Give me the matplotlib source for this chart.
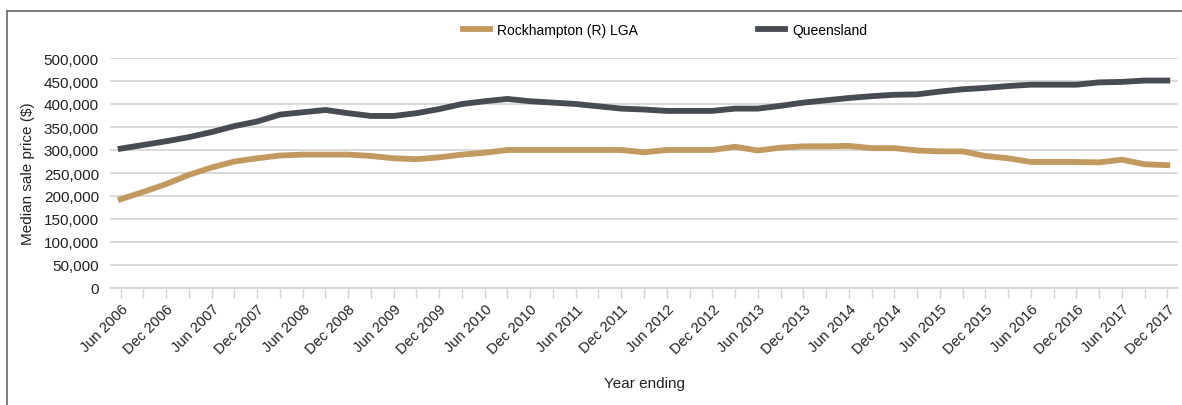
import numpy as np
import matplotlib
matplotlib.use("Agg")
from matplotlib import pyplot as plt
from matplotlib.lines import Line2D

plt.rcParams['font.family'] = ['Liberation Sans', 'DejaVu Sans']

# quarterly, year ending Jun 2006 .. Dec 2017
quarters = []
for yr in range(2006, 2018):
    for m in ['Mar', 'Jun', 'Sep', 'Dec']:
        quarters.append(m + ' ' + str(yr))
quarters = quarters[1:]

rockhampton = [193000, 209000, 226000, 246000, 262000, 275000, 282000, 288000,
               290000, 290000, 290000, 287000, 282000, 280000, 284000, 290000,
               294000, 300000, 300000, 300000, 300000, 300000, 300000, 295000,
               300000, 300000, 300000, 307000, 299000, 305000, 308000, 308000,
               309000, 304000, 304000, 299000, 297000, 297000, 287000, 282000,
               274000, 274000, 274000, 273000, 279000, 269000, 267000]

queensland = [303000, 311000, 319000, 328000, 339000, 352000, 362000, 377000,
              382000, 387000, 380000, 374000, 374000, 380000, 389000, 400000,
              406000, 411000, 406000, 403000, 400000, 395000, 390000, 388000,
              385000, 385000, 385000, 390000, 390000, 396000, 403000, 408000,
              413000, 417000, 420000, 421000, 427000, 432000, 435000, 439000,
              442000, 442000, 442000, 447000, 448000, 451000, 451000]

gold = '#C29A5F'
dark = '#474C53'
grid = '#D3D3D3'

fig = plt.figure(figsize=(11.82, 4.06), dpi=100)
ax = fig.add_axes([110 / 1182, 1 - 289 / 406, 1068 / 1182, 230 / 406])

x = np.arange(len(quarters))
ax.plot(x, rockhampton, color=gold, lw=4.2, label='Rockhampton (R) LGA', solid_joinstyle='miter')
ax.plot(x, queensland, color=dark, lw=4.2, label='Queensland', solid_joinstyle='miter')

ax.set_ylim(0, 500000)
ax.set_xlim(-0.47, len(quarters) - 1 + 0.47)
ax.set_yticks(np.arange(0, 500001, 50000))
ax.set_yticklabels(['{:,}'.format(v) for v in range(0, 500001, 50000)])
ax.yaxis.grid(True, color=grid, lw=1.2)
ax.set_axisbelow(True)

ax.set_xticks(x)
ax.set_xticklabels([q if i % 2 == 0 else '' for i, q in enumerate(quarters)],
                   rotation=45, ha='right', va='top', rotation_mode='anchor')

for s in ['top', 'right', 'left']:
    ax.spines[s].set_visible(False)
ax.spines['bottom'].set_color(grid)
ax.spines['bottom'].set_linewidth(1.2)
ax.tick_params(axis='x', length=7, color=grid, width=1, labelsize=10.5, labelcolor='#222222', pad=3)
ax.tick_params(axis='y', length=0, labelsize=11, labelcolor='#222222', pad=8)

ax.set_ylabel('Median sale price ($)', fontsize=11, color='#222222', labelpad=6)
ax.set_xlabel('Year ending', fontsize=11, color='#222222', labelpad=14)

fig.legend(loc='center', bbox_to_anchor=(665 / 1182, 1 - 31 / 406), ncol=2, frameon=False,
           fontsize=10, handlelength=2.0, handletextpad=0.5, columnspacing=8.6)

# outer frame
fig.add_artist(Line2D([7 / 1182, 7 / 1182], [0, 1 - 12 / 406], color='#666666', lw=1.2))
fig.add_artist(Line2D([7 / 1182, 1], [1 - 12 / 406, 1 - 12 / 406], color='#666666', lw=1.2))

plt.savefig('out.png', dpi=100)
